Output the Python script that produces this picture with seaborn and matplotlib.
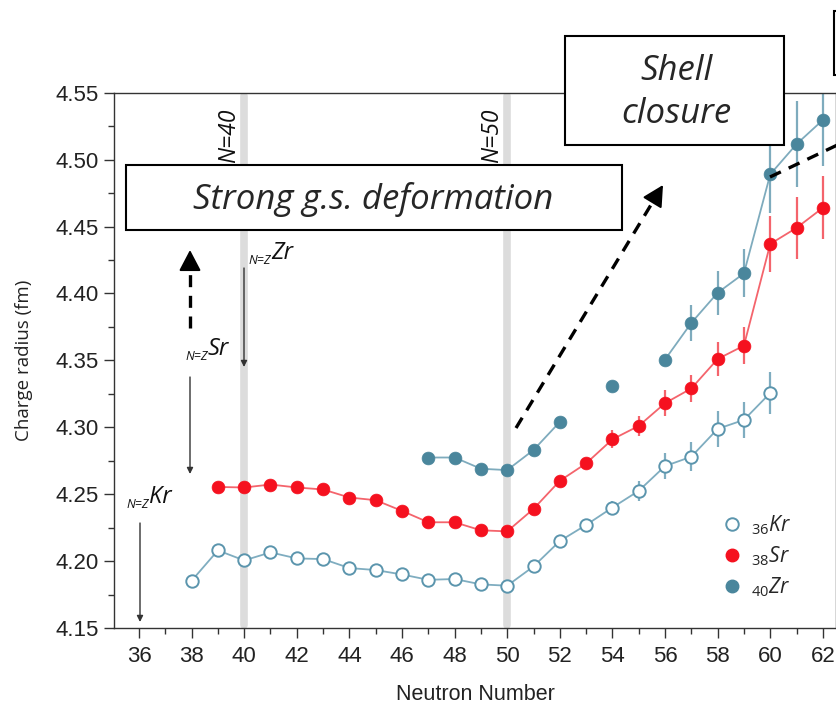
import numpy as np
import pandas as pd
import matplotlib
matplotlib.use("Agg")
import matplotlib.pyplot as plt
import seaborn as sns
from matplotlib import font_manager
from matplotlib.patches import Rectangle, FancyArrowPatch
from matplotlib.lines import Line2D
from matplotlib.ticker import MultipleLocator

# ---------------- data ----------------
kr_n = [38, 39, 40, 41, 42, 43, 44, 45, 46, 47, 48, 49, 50, 51, 52, 53, 54, 55, 56, 57, 58, 59, 60]
kr_r = [4.1853, 4.2080, 4.2005, 4.2065, 4.2020, 4.2015, 4.1948, 4.1933, 4.1900, 4.1860, 4.1866,
        4.1826, 4.1816, 4.1960, 4.2150, 4.2270, 4.2400, 4.2525, 4.2710, 4.2780, 4.2988, 4.3055, 4.3256]
kr_e = [0.001, 0.001, 0.001, 0.001, 0.001, 0.001, 0.001, 0.001, 0.001, 0.001, 0.001, 0.001, 0.001,
        0.002, 0.003, 0.004, 0.005, 0.0075, 0.010, 0.011, 0.0134, 0.0137, 0.016]

sr_n = [39, 40, 41, 42, 43, 44, 45, 46, 47, 48, 49, 50, 51, 52, 53, 54, 55, 56, 57, 58, 59, 60, 61, 62]
sr_r = [4.2554, 4.2550, 4.2572, 4.2550, 4.2535, 4.2475, 4.2455, 4.2375, 4.2290, 4.2290, 4.2230, 4.2222,
        4.2390, 4.2600, 4.2730, 4.2910, 4.3010, 4.3180, 4.3290, 4.3510, 4.3610, 4.4370, 4.4490, 4.4640]
sr_e = [0.001, 0.001, 0.001, 0.001, 0.001, 0.001, 0.001, 0.001, 0.001, 0.001, 0.001, 0.001,
        0.002, 0.003, 0.004, 0.0068, 0.0077, 0.0097, 0.0103, 0.0128, 0.0137, 0.021, 0.023, 0.0236]

zr_n = [47, 48, 49, 50, 51, 52, 54, 56, 57, 58, 59, 60, 61, 62]
zr_r = [4.2774, 4.2774, 4.2690, 4.2680, 4.2830, 4.3040, 4.3310, 4.3506, 4.3780, 4.4005, 4.4150,
        4.4890, 4.5116, 4.5296]
zr_e = [0, 0, 0, 0, 0, 0, 0, 0.002, 0.0137, 0.0165, 0.018, 0.029, 0.032, 0.034]
zr_seg = [0, 0, 0, 0, 0, 0, 1, 2, 2, 2, 2, 2, 2, 2]

legend_labels = [r"$_{\mathit{36}}Kr$", r"$_{\mathit{38}}Sr$", r"$_{\mathit{40}}Zr$"]
x_ticks = list(range(36, 63, 2))
y_ticks = [4.15, 4.20, 4.25, 4.30, 4.35, 4.40, 4.45, 4.50, 4.55]

# ---------------- style ----------------
sns.set_theme(style="ticks")
avail = {f.name for f in font_manager.fontManager.ttflist}
tick_font = "Liberation Sans Narrow" if "Liberation Sans Narrow" in avail else "Liberation Sans"
ann_font = "Open Sans" if "Open Sans" in avail else "DejaVu Sans"
plt.rcParams["font.family"] = [tick_font, "DejaVu Sans"]
plt.rcParams["mathtext.fontset"] = "custom"
plt.rcParams["mathtext.it"] = ann_font + ":italic"
plt.rcParams["mathtext.rm"] = ann_font

KR_C = "#5b95ad"
KR_L = "#7fadc0"
SR_C = "#f5111f"
SR_L = "#f4646c"
ZR_C = "#4a869c"
ZR_L = "#7eabbd"

W, H = 837, 707
fig = plt.figure(figsize=(W / 100, H / 100), dpi=100)
fig.patch.set_facecolor("white")


def fx(x):
    return x / W


def fy(y):
    return 1 - y / H


ax = fig.add_axes([fx(114), fy(628), (836 - 114) / W, (628 - 92.7) / H])
ax.set_xlim(35.05, 62.5)
ax.set_ylim(4.15, 4.55)

# vertical shell markers
for n in (40, 50):
    ax.plot([n, n], [4.1525, 4.5475], color="#dcdcdc", lw=5.5, solid_capstyle="round", zorder=0.5)

kr_df = pd.DataFrame({"N": kr_n, "R": kr_r, "E": kr_e})
sr_df = pd.DataFrame({"N": sr_n, "R": sr_r, "E": sr_e})
zr_df = pd.DataFrame({"N": zr_n, "R": zr_r, "E": zr_e, "seg": zr_seg})

# error bars
ax.errorbar(kr_df.N, kr_df.R, yerr=kr_df.E, fmt="none", ecolor=KR_L, elinewidth=1.6, zorder=1.5)
ax.errorbar(sr_df.N, sr_df.R, yerr=sr_df.E, fmt="none", ecolor=SR_L, elinewidth=1.6, zorder=1.5)
ax.errorbar(zr_df.N, zr_df.R, yerr=zr_df.E, fmt="none", ecolor=ZR_L, elinewidth=1.6, zorder=1.5)

# lines
sns.lineplot(data=kr_df, x="N", y="R", color=KR_L, lw=1.3, ax=ax, zorder=2, legend=False)
sns.lineplot(data=sr_df, x="N", y="R", color=SR_L, lw=1.3, ax=ax, zorder=2, legend=False)
sns.lineplot(data=zr_df, x="N", y="R", units="seg", estimator=None, color=ZR_L, lw=1.3, ax=ax,
             zorder=2, legend=False)

# markers
sns.scatterplot(data=kr_df, x="N", y="R", marker="o", s=80, facecolor="white", edgecolor=KR_C,
                linewidth=1.4, ax=ax, zorder=3, legend=False)
sns.scatterplot(data=sr_df, x="N", y="R", marker="o", s=85, color=SR_C, edgecolor=SR_C,
                linewidth=0.5, ax=ax, zorder=3, legend=False)
sns.scatterplot(data=zr_df, x="N", y="R", marker="o", s=85, color=ZR_C, edgecolor=ZR_C,
                linewidth=0.5, ax=ax, zorder=3, legend=False)

# axes styling
for s in ax.spines.values():
    s.set_color("#333333")
    s.set_linewidth(1.0)
ax.set_xticks(x_ticks)
ax.set_yticks(y_ticks)
ax.set_yticklabels([f"{v:.2f}" for v in y_ticks])
ax.xaxis.set_minor_locator(MultipleLocator(1))
ax.yaxis.set_minor_locator(MultipleLocator(0.025))
ax.tick_params(which="major", direction="out", length=7, width=1, color="#333333",
               labelsize=16, labelcolor="#222222", pad=4)
ax.tick_params(which="minor", direction="out", length=4, width=1, color="#333333")
ax.tick_params(axis="x", which="major", pad=6)
ax.set_xlabel("Neutron Number", fontsize=15.5, color="#222222", labelpad=12)
ax.set_ylabel("Charge radius (fm)", fontsize=13.5, color="#222222", labelpad=16, family=ann_font)

# legend
handles = [
    Line2D([], [], ls="none", marker="o", ms=9, mfc="white", mec=KR_C, mew=1.4),
    Line2D([], [], ls="none", marker="o", ms=9, mfc=SR_C, mec=SR_C),
    Line2D([], [], ls="none", marker="o", ms=9, mfc=ZR_C, mec=ZR_C),
]
leg = ax.legend(handles, legend_labels, loc="upper left", bbox_to_anchor=(fx(711), fy(503)),
                bbox_transform=fig.transFigure, frameon=False, fontsize=15, handlelength=1.0,
                handletextpad=0.4, labelspacing=0.35, borderpad=0)

# N=40 / N=50 labels
for n in (40, 50):
    ax.text(n - 0.12, 4.538, f"N={n}", rotation=90, ha="right", va="top", fontsize=16.5,
            style="italic", family=ann_font, color="#111111", zorder=1)


# N=Z labels and arrows
def nz_label(xp, yp, elem):
    fig.text(fx(xp), fy(yp), "N=Z", fontsize=9, style="italic", family=ann_font,
             color="#111111", va="baseline", ha="left")
    fig.text(fx(xp + 23), fy(yp - 5), elem, fontsize=17, style="italic", family=ann_font,
             color="#111111", va="baseline", ha="left")


nz_label(126, 508, "Kr")
nz_label(185, 360, "Sr")
nz_label(248, 264, "Zr")


def thin_arrow(x, y0, y1):
    fig.patches.append(FancyArrowPatch((fx(x), fy(y0)), (fx(x), fy(y1)), transform=fig.transFigure,
                                       arrowstyle="-|>", mutation_scale=9, lw=1.0, color="#333333",
                                       shrinkA=0, shrinkB=0))


thin_arrow(140, 523, 622)
thin_arrow(190, 377, 474)
thin_arrow(244, 268, 367)


def dashed_arrow(x0, y0, x1, y1, head=15):
    d = np.hypot(x1 - x0, y1 - y0)
    ux, uy = (x1 - x0) / d, (y1 - y0) / d
    bx, by = x1 - ux * head, y1 - uy * head
    fig.lines.append(Line2D([fx(x0), fx(bx)], [fy(y0), fy(by)], transform=fig.transFigure,
                            lw=2.4, ls=(0, (3.6, 2.6)), color="black"))
    fig.patches.append(FancyArrowPatch((fx(bx - ux * 3), fy(by - uy * 3)), (fx(x1), fy(y1)),
                                       transform=fig.transFigure,
                                       arrowstyle="-|>,head_length=0.8,head_width=0.42",
                                       mutation_scale=16, lw=1.5, color="black",
                                       shrinkA=0, shrinkB=0))


dashed_arrow(190, 328, 190, 250)
dashed_arrow(516, 428, 663, 185)
fig.lines.append(Line2D([fx(770), fx(850)], [fy(177), fy(139)], transform=fig.transFigure,
                        lw=2.4, ls=(0, (3.6, 2.6)), color="black"))

# boxes
fig.patches.append(Rectangle((fx(126), fy(230)), (622 - 126) / W, (230 - 165) / H,
                             transform=fig.transFigure, facecolor="white", edgecolor="black",
                             lw=1.5, zorder=5))
fig.text(fx(373), fy(199), "Strong g.s. deformation", fontsize=25, style="italic",
         family=ann_font, ha="center", va="center", zorder=6)
fig.patches.append(Rectangle((fx(565), fy(145)), (784 - 565) / W, (145 - 36) / H,
                             transform=fig.transFigure, facecolor="white", edgecolor="black",
                             lw=1.5, zorder=5))
fig.text(fx(676), fy(71), "Shell", fontsize=25, style="italic", family=ann_font,
         ha="center", va="center", zorder=6)
fig.text(fx(676), fy(114), "closure", fontsize=25, style="italic", family=ann_font,
         ha="center", va="center", zorder=6)
fig.patches.append(Rectangle((fx(834), fy(75)), 60 / W, 64 / H, transform=fig.transFigure,
                             facecolor="white", edgecolor="black", lw=1.5, zorder=5))

fig.savefig("out.png", dpi=100, facecolor="white")
